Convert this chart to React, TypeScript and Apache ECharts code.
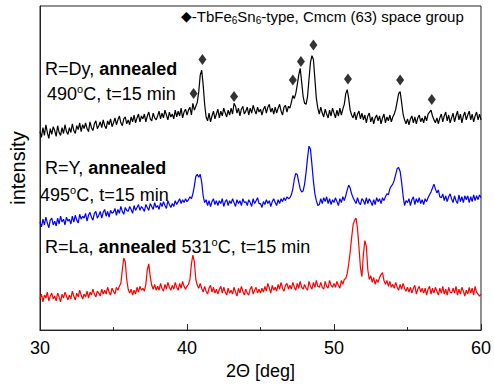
import React, { useEffect, useRef } from 'react';
import * as echarts from 'echarts';

// 2Theta sampling grid of the scans (deg)
const angleStart = 30;
const angleStep = 0.1;

// R=Dy annealed 490 °C (offset intensity, a.u.)
const dyCounts = [
  204,198,208,200,211,203,197,207,201,209,
  205,199,210,203,200,208,202,211,204,201,
  208,203,212,205,202,210,206,213,204,211,
  207,213,207,204,214,208,205,212,215,207,
  210,214,208,216,210,207,215,211,217,209,
  213,218,211,216,220,213,210,217,219,212,
  216,211,219,214,221,213,218,222,214,220,
  217,222,214,220,224,217,215,223,218,216,
  220,225,217,223,218,226,221,216,224,219,
  222,217,226,219,225,220,228,218,224,227,
  221,226,229,221,233,226,230,234,245,262,
  267,252,232,219,215,223,214,220,225,217,
  222,227,218,225,220,228,223,219,226,221,
  228,222,233,230,223,228,220,227,230,222,
  225,229,221,228,223,231,226,222,229,224,
  227,221,227,230,223,229,232,224,228,222,
  229,223,228,232,225,221,229,231,224,230,
  228,234,241,238,243,252,262,269,255,240,
  233,232,240,258,275,282,278,258,238,228,
  222,229,223,219,227,222,218,226,220,228,
  223,218,226,220,228,221,227,232,243,247,
  238,226,221,218,224,216,222,225,217,223,
  216,221,213,220,223,214,219,212,218,221,
  215,220,212,218,222,213,219,215,221,214,
  219,222,227,235,243,245,234,222,216,212,
  217,211,217,220,213,219,212,218,221,214,
  218,213,220,215,222,224,226,220,216,213,
  218,212,218,222,214,220,224,215,221,213,
  218,223,214,220,225,216,222,213,220,224,
  216,221,225,216,222,214,220,224,216,222,
  216,
];

// R=Y annealed 495 °C
const yCounts = [
  111,106,114,108,116,110,105,113,115,108,
  112,107,115,109,117,111,114,108,116,112,
  114,109,117,111,118,113,110,119,114,117,
  115,120,112,118,121,116,113,120,122,115,
  118,122,115,121,124,117,122,116,123,120,
  121,125,118,124,120,127,122,119,126,123,
  122,127,124,120,128,123,126,129,123,127,
  125,122,129,126,123,130,127,124,131,126,
  128,124,131,127,132,128,125,133,129,126,
  130,127,133,129,132,135,130,134,131,135,
  132,134,137,135,140,148,158,160,157,160,
  152,138,131,134,128,133,127,132,135,129,
  133,128,133,130,135,127,132,134,128,133,
  130,135,131,127,134,130,133,128,135,131,
  132,128,134,131,127,135,130,133,136,130,
  130,126,132,129,134,130,133,127,132,135,
  131,128,134,130,135,132,136,133,137,135,
  136,139,145,155,161,160,152,145,142,143,
  150,162,177,189,186,170,153,140,133,128,
  129,135,130,136,132,137,130,135,129,134,
  131,136,132,128,135,131,137,133,138,144,
  149,146,140,136,133,130,136,131,129,135,
  133,129,136,130,135,132,128,134,129,136,
  132,135,130,136,133,137,140,139,145,148,
  150,154,160,166,167,163,152,138,128,133,
  131,135,128,134,137,129,135,131,136,130,
  134,129,135,132,136,139,142,146,150,145,
  141,144,137,136,140,133,138,132,137,140,
  135,131,138,133,130,139,132,137,131,138,
  134,138,131,137,132,139,133,138,134,139,
  136,
];

// R=La annealed 531 °C
const laCounts = [
  32,37,29,36,33,39,30,35,38,32,
  35,30,38,34,29,37,33,39,35,31,
  36,32,40,35,31,38,34,41,36,32,
  37,34,40,33,39,36,42,37,34,40,
  38,35,42,37,41,37,44,39,36,43,
  40,37,44,41,45,48,62,74,70,52,
  42,38,42,36,41,37,44,39,45,41,
  43,40,47,62,68,55,46,42,47,41,
  45,41,48,43,40,47,42,49,44,41,
  46,42,49,44,41,48,43,50,45,42,
  45,47,52,68,77,70,52,46,43,48,
  43,39,45,40,37,43,46,39,44,38,
  42,37,42,45,38,44,39,36,43,38,
  41,37,44,39,35,43,38,45,40,36,
  42,38,36,42,45,37,41,44,38,42,
  38,43,39,45,40,48,43,38,46,41,
  44,40,47,42,49,43,40,46,48,42,
  46,42,49,44,41,48,43,50,44,42,
  47,43,41,50,45,42,49,44,51,45,
  44,49,44,42,50,45,43,51,46,44,
  48,44,50,46,43,51,47,52,53,58,
  68,80,95,108,113,115,104,85,64,55,
  78,92,86,62,52,56,49,54,47,52,
  49,54,57,59,51,47,51,45,50,44,
  47,43,49,44,41,47,42,48,43,40,
  44,39,44,38,43,46,37,42,45,39,
  43,38,43,36,42,45,37,43,38,44,
  40,36,43,38,45,37,42,36,44,39,
  38,43,38,45,36,42,37,44,40,35,
  41,37,44,38,43,36,45,39,37,35,
  37,
];

// TbFe6Sn6-type reflections marked on the Dy pattern
const markAngles = [40.45, 41.05, 43.2, 47.2, 47.75, 48.6, 50.95, 54.5, 56.65];
const markLevels = [243, 278, 240, 257, 276, 293, 258, 257, 237];

const xMin = 30;
const xMax = 60;
const xInterval = 10;

const FONT = '"Liberation Sans", Arial, Helvetica, sans-serif';

function toPairs(vals: number[]) {
  return vals.map((v, i) => [Number((angleStart + i * angleStep).toFixed(2)), v]);
}

export default function App() {
  const ref = useRef<HTMLDivElement>(null);
  useEffect(() => {
    if (!ref.current) return;
    const chart = echarts.init(ref.current, null, { renderer: 'svg' });
    const base = { fontFamily: FONT, fontSize: 18, color: '#000' };
    const richMain = {
      n: { fontFamily: FONT, fontSize: 18, color: '#000' },
      b: { fontFamily: FONT, fontSize: 18, fontWeight: 'bold', color: '#000' },
      sup: { fontFamily: FONT, fontSize: 11, color: '#000', verticalAlign: 'top', padding: [0, 0, 11, 0] },
    };
    const textEl = (x: number, y: number, text: string) => ({
      type: 'text',
      x,
      y,
      style: {
        text,
        rich: richMain,
        fontFamily: FONT,
        fontSize: 18,
        fill: '#000',
        verticalAlign: 'middle',
        align: 'left',
      },
      z: 10,
    });
    chart.setOption({
      animation: false,
      grid: {
        left: 37,
        right: 9,
        top: 6,
        bottom: 46,
        containLabel: false,
        show: true,
        borderColor: '#222',
        borderWidth: 1,
        backgroundColor: 'transparent',
      },
      xAxis: {
        type: 'value',
        min: xMin,
        max: xMax,
        interval: xInterval,
        axisLine: { show: true, lineStyle: { color: '#222', width: 1 } },
        axisTick: { show: true, inside: true, length: 6, lineStyle: { color: '#222' } },
        minorTick: { show: true, splitNumber: 2, length: 3, lineStyle: { color: '#222' } },
        splitLine: { show: false },
        axisLabel: { ...base, margin: 9 },
        name: '2Θ [deg]',
        nameLocation: 'middle',
        nameGap: 25,
        nameTextStyle: { ...base },
      },
      yAxis: {
        type: 'value',
        min: 0,
        max: 333,
        axisLine: { show: true, lineStyle: { color: '#222', width: 1 } },
        axisTick: { show: false },
        axisLabel: { show: false },
        splitLine: { show: false },
        name: 'intensity',
        nameLocation: 'middle',
        nameGap: 12,
        nameTextStyle: { ...base, fontSize: 20 },
      },
      series: [
        {
          type: 'line',
          data: toPairs(dyCounts),
          showSymbol: false,
          lineStyle: { color: '#000', width: 1.2 },
          z: 3,
        },
        {
          type: 'line',
          data: toPairs(yCounts),
          showSymbol: false,
          lineStyle: { color: '#0000ff', width: 1.2 },
          z: 3,
        },
        {
          type: 'line',
          data: toPairs(laCounts),
          showSymbol: false,
          lineStyle: { color: '#ff0000', width: 1.2 },
          z: 3,
        },
        {
          type: 'scatter',
          data: markAngles.map((a, i) => [a, markLevels[i]]),
          symbol: 'diamond',
          symbolSize: [8, 11],
          itemStyle: { color: '#000' },
          z: 4,
        },
      ],
      graphic: [
        {
          type: 'text',
          x: 181,
          y: 16,
          style: {
            text: '{d|◆}{n|-TbFe}{s|6}{n|Sn}{s|6}{n|-type, Cmcm (63) space group}',
            rich: {
              d: { fontFamily: 'DejaVu Sans', fontSize: 14, color: '#000' },
              n: { fontFamily: FONT, fontSize: 15, color: '#000' },
              s: { fontFamily: FONT, fontSize: 10, color: '#000', verticalAlign: 'bottom', padding: [8, 0, 0, 0] },
            },
            verticalAlign: 'middle',
            align: 'left',
            fill: '#000',
          },
          z: 10,
        },
        textEl(45, 69, '{n|R=Dy, }{b|annealed}'),
        textEl(47, 94, '{n|490}{sup|o}{n|C, t=15 min}'),
        textEl(45, 168, '{n|R=Y, }{b|annealed}'),
        textEl(40, 195, '{n|495}{sup|o}{n|C, t=15 min}'),
        textEl(45, 247, '{n|R=La, }{b|annealed}{n| 531}{sup|o}{n|C, t=15 min}'),
      ],
    });
    return () => chart.dispose();
  }, []);
  return <div ref={ref} style={{ width: 494, height: 385, position: 'absolute', left: 0, top: 0 }} />;
}
